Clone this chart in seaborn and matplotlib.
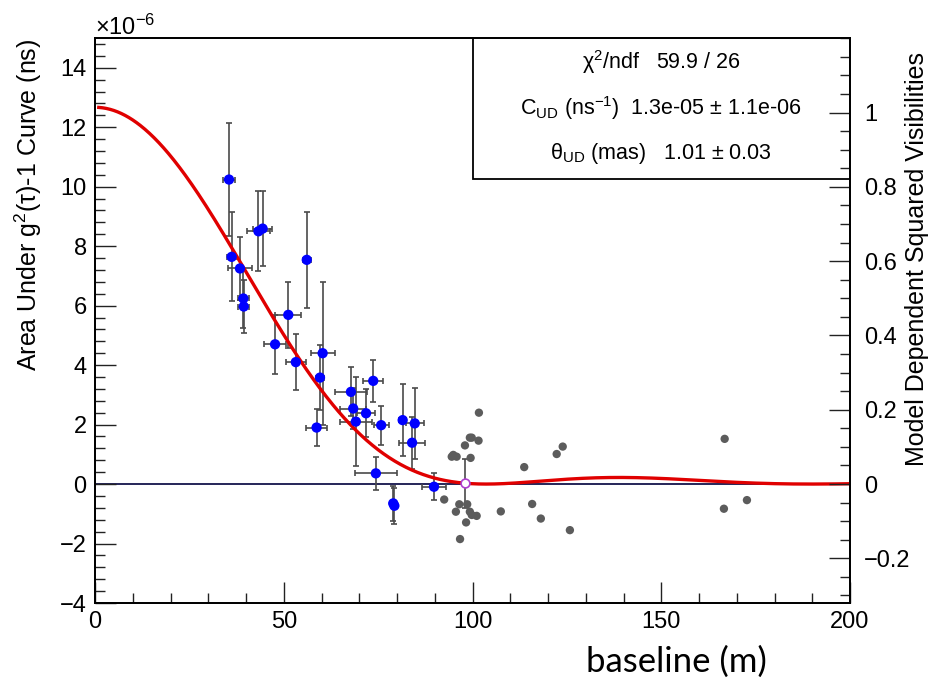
import numpy as np
import pandas as pd
import matplotlib
matplotlib.use("Agg")
import matplotlib.pyplot as plt
import seaborn as sns
from matplotlib.ticker import MultipleLocator, FixedLocator, FuncFormatter
from matplotlib.patches import Rectangle

# ---------------- data ----------------
# fitted points (blue, with errors); values in units of 1e-6 ns
fit_baseline = [35.5, 36.2, 38.4, 39.3, 39.4, 43.3, 44.4, 56.1, 51.2, 47.7,
                53.2, 60.3, 59.6, 58.7, 73.7, 67.8, 68.4, 69.1, 71.8, 75.8,
                74.4, 79.0, 79.3, 81.5, 84.7, 84.0, 89.8]
fit_area = [10.24, 7.64, 7.25, 6.24, 5.97, 8.50, 8.59, 7.54, 5.69, 4.70,
            4.10, 4.40, 3.58, 1.90, 3.47, 3.10, 2.54, 2.10, 2.38, 1.98,
            0.36, -0.65, -0.73, 2.15, 2.04, 1.39, -0.09]
fit_area_err = [1.9, 1.5, 1.05, 1.0, 0.9, 1.35, 1.25, 1.62, 1.1, 1.0,
                0.95, 2.4, 1.1, 0.63, 0.7, 0.82, 0.7, 1.5, 0.8, 0.65,
                0.56, 0.6, 0.6, 1.2, 1.2, 0.87, 0.45]
fit_baseline_err = [1.5, 1.2, 3.3, 1.4, 1.4, 3.0, 2.5, 1.0, 3.4, 2.9,
                    2.6, 3.2, 1.0, 2.7, 2.6, 4.3, 3.4, 4.3, 2.5, 2.0,
                    5.5, 0.5, 0.5, 1.0, 2.4, 3.5, 3.2]

# open marker point
open_baseline = [97.9]
open_area = [0.02]
open_area_err = [0.82]

# excluded points (grey, no errors)
excl_baseline = [101.7, 99.3, 99.8, 101.6, 98.0, 94.9, 95.8, 94.5, 99.5, 113.7,
                 92.5, 96.5, 98.6, 95.6, 99.3, 99.8, 101.1, 107.5, 115.8, 118.1,
                 98.3, 96.7, 122.3, 123.9, 125.8, 166.8, 166.6, 172.7]
excl_area = [2.40, 1.56, 1.56, 1.46, 1.30, 0.98, 0.92, 0.92, 0.88, 0.57,
             -0.52, -0.68, -0.68, -0.93, -0.93, -1.04, -1.07, -0.92, -0.67, -1.16,
             -1.29, -1.85, 1.01, 1.26, -1.55, 1.52, -0.83, -0.54]

# fit parameters (uniform disk model)
C_UD = 12.67          # 1e-6 ns  (shown as 1.3e-05)
theta_mas = 1.01
wavelength_m = 416e-9
V2_scale = 12.49      # left-axis value (1e-6) that corresponds to V^2 = 1

x_ticks = [0, 50, 100, 150, 200]
y_ticks = [-4, -2, 0, 2, 4, 6, 8, 10, 12, 14]
v2_ticks = [-0.2, 0, 0.2, 0.4, 0.6, 0.8, 1]

# ---------------- model curve ----------------
def bessel_j1(x):
    tau = np.linspace(0, np.pi, 2001)
    vals = np.cos(tau[None, :] - x[:, None] * np.sin(tau[None, :]))
    return np.trapezoid(vals, tau, axis=1) / np.pi

B = np.linspace(1, 200, 800)
theta_rad = theta_mas * np.pi / 180 / 3600 / 1000
xarg = np.pi * theta_rad * B / wavelength_m
model = C_UD * (2 * bessel_j1(xarg) / xarg) ** 2
curve_df = pd.DataFrame({"baseline": B, "area": model})

fit_df = pd.DataFrame({"baseline": fit_baseline, "area": fit_area})
excl_df = pd.DataFrame({"baseline": excl_baseline, "area": excl_area})
open_df = pd.DataFrame({"baseline": open_baseline, "area": open_area})

# ---------------- figure ----------------
plt.rcParams["font.family"] = ["Liberation Sans", "DejaVu Sans"]
plt.rcParams["mathtext.fontset"] = "custom"
plt.rcParams["mathtext.rm"] = "Liberation Sans"
plt.rcParams["mathtext.it"] = "Liberation Sans:italic"
plt.rcParams["mathtext.bf"] = "Liberation Sans:bold"

fig = plt.figure(figsize=(9.31, 6.88), dpi=100)
fig.patch.set_facecolor("white")
ax = fig.add_axes([95 / 931, 1 - 603 / 688, 755 / 931, 565 / 688])

ax.axhline(0, color="#00003c", lw=1.2, zorder=1)

ax.errorbar(fit_baseline, fit_area, yerr=fit_area_err, xerr=fit_baseline_err,
            fmt="none", ecolor="#4a4a4a", elinewidth=1.2, capsize=2.2,
            capthick=1.2, zorder=2)
ax.errorbar(open_baseline, open_area, yerr=open_area_err, fmt="none",
            ecolor="#4a4a4a", elinewidth=1.2, capsize=2.2, capthick=1.2, zorder=2)

sns.scatterplot(data=excl_df, x="baseline", y="area", ax=ax, color="#5c5c5c",
                s=36, edgecolor="none", zorder=3)
sns.lineplot(data=curve_df, x="baseline", y="area", ax=ax, color="#e00000",
             lw=2.4, zorder=4)
sns.scatterplot(data=fit_df, x="baseline", y="area", ax=ax, color="#0000ff",
                s=55, edgecolor="none", zorder=5)
sns.scatterplot(data=open_df, x="baseline", y="area", ax=ax, facecolor="white",
                edgecolor="#b040d0", linewidth=1.2, s=40, zorder=6)

ax.set_xlim(0, 200)
ax.set_ylim(-4, 15)
ax.xaxis.set_major_locator(FixedLocator(x_ticks))
ax.xaxis.set_minor_locator(MultipleLocator(10))
ax.yaxis.set_major_locator(FixedLocator(y_ticks))
ax.yaxis.set_minor_locator(MultipleLocator(0.4))
ax.tick_params(axis="both", which="major", direction="in", length=15,
               width=1.0, labelsize=17, color="#222222")
ax.tick_params(axis="both", which="minor", direction="in", length=7.5,
               width=1.0, color="#222222")
ax.tick_params(axis="x", pad=6)
ax.tick_params(axis="y", pad=6)
for s in ax.spines.values():
    s.set_linewidth(1.3)
ax.set_xlabel("")
ax.set_ylabel(r"Area Under g$^{2}$(τ)-1 Curve (ns)", fontsize=18, loc="top")
ax.yaxis.set_label_coords(-0.068, 0.998)

ax.text(0.0, 1.006, r"×10$^{-6}$", transform=ax.transAxes, fontsize=17,
        ha="left", va="baseline")

# right axis
ax2 = ax.twinx()
ax2.set_ylim(-4 / V2_scale, 15 / V2_scale)
ax2.yaxis.set_major_locator(FixedLocator(v2_ticks))
ax2.yaxis.set_minor_locator(MultipleLocator(0.05))
ax2.yaxis.set_major_formatter(FuncFormatter(
    lambda v, p: ("%g" % round(v, 2)).replace("-", "\u2212")))
ax2.tick_params(axis="y", which="major", direction="in", length=15, width=1.0,
                labelsize=17, pad=10, color="#222222")
ax2.tick_params(axis="y", which="minor", direction="in", length=7.5, width=1.0,
                color="#222222")
for s in ax2.spines.values():
    s.set_linewidth(1.3)
ax2.set_ylabel("Model Dependent Squared Visibilities", fontsize=18, loc="top")
ax2.yaxis.set_label_coords(1.073, 0.975)

# stats box
box = Rectangle((0.5, 0.75), 0.5, 0.25, transform=ax.transAxes,
                facecolor="white", edgecolor="black", lw=1.3, zorder=10)
ax.add_patch(box)
stats = [r"χ$^{2}$/ndf   59.9 / 26",
         r"C$_{\mathrm{UD}}$ (ns$^{\mathrm{-1}}$)  1.3e-05 ± 1.1e-06",
         r"θ$_{\mathrm{UD}}$ (mas)   1.01 ± 0.03"]
for i, t in enumerate(stats):
    ax.text(0.75, 0.957 - i * 0.081, t, transform=ax.transAxes, fontsize=15.5,
            ha="center", va="center", zorder=11)

# slide caption
fig.text(676 / 931, 1 - 662 / 688, "baseline (m)", fontsize=25,
         family=["Lato", "DejaVu Sans"], ha="center", va="center")

fig.savefig("out.png", dpi=100, facecolor="white")
